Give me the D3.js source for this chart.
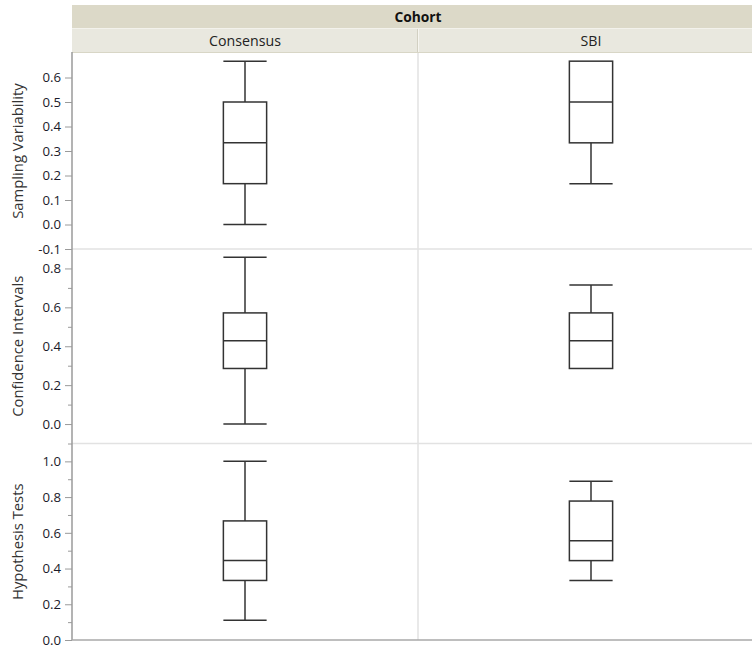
<!DOCTYPE html>
<html>
<head>
<meta charset="utf-8">
<script src="https://cdn.jsdelivr.net/npm/d3@7"></script>
<style>
  html, body { margin: 0; padding: 0; background: #fff; }
  svg { display: block; font-family: "Open Sans", "Noto Sans", sans-serif; }
</style>
</head>
<body>
<svg id="chart" width="752" height="648"></svg>
<script>
// Grouping variable and its levels
const groupTitle = "Cohort";
const cohorts = ["Consensus", "SBI"];

// One row per measure
const measures = ["Sampling Variability", "Confidence Intervals", "Hypothesis Tests"];

// Box summaries per measure: [min, q1, median, q3, max] for each cohort
const samplingVariability = [
  [0, 1/6, 1/3, 1/2, 2/3],
  [1/6, 1/3, 1/2, 2/3, 2/3]
];
const confidenceIntervals = [
  [0, 2/7, 3/7, 4/7, 6/7],
  [2/7, 2/7, 3/7, 4/7, 5/7]
];
const hypothesisTests = [
  [1/9, 3/9, 4/9, 6/9, 1],
  [3/9, 4/9, 5/9, 7/9, 8/9]
];
const summaries = [samplingVariability, confidenceIntervals, hypothesisTests];

// Axis extents and tick labels per row
const yDomains = [[-0.1, 0.7], [-0.1, 0.9], [0, 1.1]];
const majorTicks = [
  [-0.1, 0, 0.1, 0.2, 0.3, 0.4, 0.5, 0.6],
  [0, 0.2, 0.4, 0.6, 0.8],
  [0, 0.2, 0.4, 0.6, 0.8, 1.0]
];
const minorTicks = [
  [],
  [-0.1, 0.1, 0.3, 0.5, 0.7],
  [0.1, 0.3, 0.5, 0.7, 0.9]
];

const svg = d3.select("#chart");

// Layout
const left = 72, right = 764;
const headTop = 5, headMid = 28, headBottom = 52;
const rowEdges = [53, 249, 443.5, 640];
const lineColor = "#333";
const fmt = d3.format(".1f");

const x = d3.scaleBand().domain(cohorts).range([left, right]);
const boxW = x.bandwidth() * 0.125;

// Header bands
svg.append("rect").attr("x", left).attr("y", headTop).attr("width", right - left)
  .attr("height", headMid - headTop).attr("fill", "#dcd9c8");
svg.append("rect").attr("x", left).attr("y", headMid).attr("width", right - left)
  .attr("height", headBottom - headMid).attr("fill", "#e9e8df");
svg.append("line").attr("x1", left).attr("x2", right).attr("y1", headMid + 0.5).attr("y2", headMid + 0.5)
  .attr("stroke", "#f3f2ec").attr("stroke-width", 1);
svg.append("line").attr("x1", left).attr("x2", right).attr("y1", headBottom + 0.5).attr("y2", headBottom + 0.5)
  .attr("stroke", "#d8d6c6").attr("stroke-width", 1);
svg.append("text").attr("x", (left + right) / 2).attr("y", headMid - 6.5)
  .attr("text-anchor", "middle").attr("font-size", 13.8).attr("font-weight", "bold")
  .attr("fill", "#111").text(groupTitle);

cohorts.forEach((c, i) => {
  const cx = x(c) + x.bandwidth() / 2;
  svg.append("text").attr("x", cx).attr("y", headBottom - 6)
    .attr("text-anchor", "middle").attr("font-size", 14.2).attr("fill", "#222").text(c);
  if (i > 0) {
    svg.append("line").attr("x1", x(c) - 0.5).attr("x2", x(c) - 0.5)
      .attr("y1", headMid + 1).attr("y2", headBottom)
      .attr("stroke", "#d2d0c2").attr("stroke-width", 1);
    svg.append("line").attr("x1", x(c) + 0.5).attr("x2", x(c) + 0.5)
      .attr("y1", headMid + 1).attr("y2", headBottom)
      .attr("stroke", "#f6f5f0").attr("stroke-width", 1);
  }
});

// Vertical separators between cohort columns
cohorts.slice(1).forEach(c => {
  svg.append("line").attr("x1", x(c)).attr("x2", x(c))
    .attr("y1", headBottom + 1).attr("y2", rowEdges[3])
    .attr("stroke", "#e2e2e2").attr("stroke-width", 1.5);
});

measures.forEach((m, r) => {
  const y0 = rowEdges[r + 1], y1 = rowEdges[r];
  const y = d3.scaleLinear().domain(yDomains[r]).range([y0, y1]);

  // Row separator
  if (r > 0) {
    svg.append("line").attr("x1", left).attr("x2", right).attr("y1", y1).attr("y2", y1)
      .attr("stroke", "#e2e2e2").attr("stroke-width", 1.5);
  }

  // Y axis
  const ax = svg.append("g").attr("transform", `translate(${left},0)`)
    .call(d3.axisLeft(y).tickValues(majorTicks[r]).tickSize(7).tickPadding(4).tickFormat(fmt));
  ax.select(".domain").remove();
  ax.selectAll(".tick line").attr("stroke", "#9a9a9a");
  ax.selectAll(".tick text").attr("font-size", 13.2).attr("fill", "#1a1a2a")
    .attr("font-family", "'Open Sans', sans-serif")
    .text(d => fmt(d).replace("\u2212", "-"));

  const mx = svg.append("g").attr("transform", `translate(${left},0)`)
    .call(d3.axisLeft(y).tickValues(minorTicks[r]).tickSize(4).tickFormat(""));
  mx.select(".domain").remove();
  mx.selectAll(".tick line").attr("stroke", "#9a9a9a");

  // Row title
  svg.append("text")
    .attr("transform", `translate(23,${(y0 + y1) / 2}) rotate(-90)`)
    .attr("text-anchor", "middle").attr("font-size", 14.8).attr("fill", "#333").text(m);

  // Boxes
  summaries[r].forEach((s, i) => {
    const [mn, q1, md, q3, mxv] = s;
    const cx = x(cohorts[i]) + x.bandwidth() / 2;
    const g = svg.append("g").attr("stroke", lineColor).attr("stroke-width", 1.5).attr("fill", "none");
    // whiskers
    if (mxv > q3) {
      g.append("line").attr("x1", cx).attr("x2", cx).attr("y1", y(q3)).attr("y2", y(mxv));
      g.append("line").attr("x1", cx - boxW / 2).attr("x2", cx + boxW / 2).attr("y1", y(mxv)).attr("y2", y(mxv));
    }
    if (mn < q1) {
      g.append("line").attr("x1", cx).attr("x2", cx).attr("y1", y(q1)).attr("y2", y(mn));
      g.append("line").attr("x1", cx - boxW / 2).attr("x2", cx + boxW / 2).attr("y1", y(mn)).attr("y2", y(mn));
    }
    g.append("rect").attr("x", cx - boxW / 2).attr("y", y(q3))
      .attr("width", boxW).attr("height", y(q1) - y(q3));
    g.append("line").attr("x1", cx - boxW / 2).attr("x2", cx + boxW / 2).attr("y1", y(md)).attr("y2", y(md));
  });
});

// Frame axis lines
svg.append("line").attr("x1", left).attr("x2", left).attr("y1", headBottom).attr("y2", rowEdges[3])
  .attr("stroke", "#9a9a9a").attr("stroke-width", 1.5);
svg.append("line").attr("x1", left).attr("x2", right).attr("y1", rowEdges[3]).attr("y2", rowEdges[3])
  .attr("stroke", "#a8a8a8").attr("stroke-width", 1.5);
</script>
</body>
</html>
